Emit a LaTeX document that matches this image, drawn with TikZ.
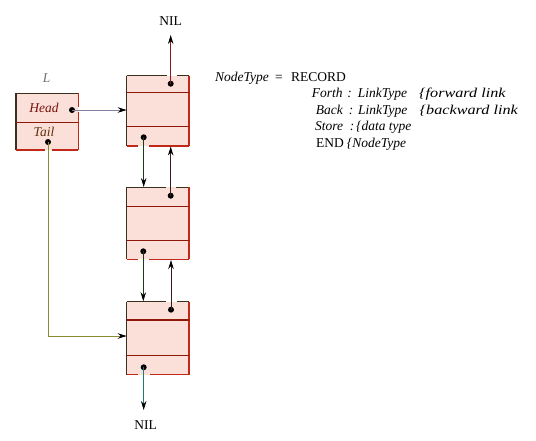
\documentclass[tikz,border=0pt]{standalone}
\usepackage{fontspec}
\setmainfont{Liberation Serif}
\newfontfamily\widecomment{Liberation Serif}[FakeStretch=1.2]
\usetikzlibrary{arrows.meta}
\definecolor{boxfill}{HTML}{FAE0D8}
\definecolor{edgedark}{HTML}{3A3020}
\definecolor{edgered}{HTML}{C02818}
\definecolor{divred}{HTML}{901808}
\definecolor{headcol}{HTML}{7A1010}
\definecolor{tailcol}{HTML}{603010}
\definecolor{headarrow}{HTML}{8080A0}
\definecolor{tailarrow}{HTML}{8A8A30}
\definecolor{downarrow}{HTML}{1A3A1A}
\definecolor{uparrow}{HTML}{3A1A1A}
\definecolor{nilup}{HTML}{8A1A1A}
\definecolor{nildown}{HTML}{207878}
\begin{document}
\begin{tikzpicture}[x=1pt,y=-1pt,
  font=\fontsize{13.5}{15}\selectfont,
  fillbox/.style={fill=boxfill,draw=none,inner sep=0pt,outer sep=0pt,anchor=north west},
  dark/.style={draw=edgedark,line width=1.1pt},
  redge/.style={draw=edgered,line width=1.1pt},
  divl/.style={draw=divred,line width=1.1pt},
  ptr/.style={circle,fill=black,inner sep=0pt,minimum size=6pt},
  arr/.style={line width=0.9pt,-{Stealth[length=9pt,width=5.5pt,color=black]}},
  txt/.style={inner sep=0pt,anchor=base west},
  cmt/.style={inner sep=0pt,anchor=base west,font=\fontsize{13.5}{15}\widecomment\itshape},
  lbl/.style={inner sep=0pt,anchor=base}]
\useasboundingbox (0,0) rectangle (536,440);

% ---- L record ----
\node[fillbox,minimum width=62.3pt,minimum height=56.7pt] (Lbox) at (16,93.3) {};
\draw[dark] (16,93.3) -- (78.3,93.3);
\draw[dark] (16,93.3) -- (16,150);
\draw[redge] (78.3,93.3) -- (78.3,106.7) (78.3,111.7) -- (78.3,150);
\draw[redge] (16,150) -- (45,150) (51.7,150) -- (78.3,150);
\draw[divl] (16,122.7) -- (78.3,122.7);
\node[lbl,text=black!55] (Llab) at (46.7,82.7) {\itshape L};
\node[lbl,text=headcol] (headlab) at (44,112.7) {\itshape Head};
\node[lbl,text=tailcol] (taillab) at (44,136.7) {\itshape Tail};
\node[ptr] (hd) at (72,110) {};
\node[ptr] (tl) at (48,142) {};

% ---- list nodes ----
\node[fillbox,minimum width=62.3pt,minimum height=70.3pt] (n1) at (126.7,75.7) {};
\node[fillbox,minimum width=62.3pt,minimum height=72pt] (n2) at (126.7,187.3) {};
\node[fillbox,minimum width=62.3pt,minimum height=73pt] (n3) at (126.7,301.7) {};

% node 1 edges
\draw[dark] (126.7,75.7) -- (166.5,75.7) (176.5,75.7) -- (189,75.7);
\draw[dark] (126.7,75.7) -- (126.7,146);
\draw[redge] (189,75.7) -- (189,146);
\draw[redge] (126.7,146) -- (137.7,146) (149,146) -- (189,146);
\draw[divl] (126.7,92.7) -- (189,92.7) (126.7,126.7) -- (189,126.7);
% node 2 edges
\draw[dark] (126.7,187.3) -- (165.5,187.3) (176,187.3) -- (189,187.3);
\draw[dark] (126.7,187.3) -- (126.7,259.3);
\draw[redge] (189,187.3) -- (189,259.3);
\draw[redge] (126.7,259.3) -- (138,259.3) (149,259.3) -- (189,259.3);
\draw[divl] (126.7,206.7) -- (189,206.7) (126.7,240.7) -- (189,240.7);
% node 3 edges
\draw[dark] (126.7,301.7) -- (165.5,301.7) (176.5,301.7) -- (189,301.7);
\draw[dark] (126.7,301.7) -- (126.7,374.7);
\draw[redge] (189,301.7) -- (189,374.7);
\draw[redge] (126.7,374.7) -- (138,374.7) (150,374.7) -- (189,374.7);
\draw[divl] (126.7,320) -- (189,320) (126.7,355.7) -- (189,355.7);

% pointer dots
\node[ptr] (p1t) at (170.7,83.7) {};
\node[ptr] (p1b) at (143.7,137.3) {};
\node[ptr] (p2t) at (170.7,195.7) {};
\node[ptr] (p2b) at (143.3,251.3) {};
\node[ptr] (p3t) at (171,309.7) {};
\node[ptr] (p3b) at (143.7,367.3) {};

% NIL labels
\node[lbl] (niltop) at (170.7,25) {NIL};
\node[lbl] (nilbot) at (145.7,429) {NIL};
\coordinate (niltopend) at (170.7,35);
\coordinate (nilbotend) at (143.7,410);

% arrow targets
\coordinate (n1left) at (126.7,110);
\coordinate (n3left) at (126.7,336);
\coordinate (tailcorner) at (48,336);
\coordinate (n2topin) at (143.7,187);
\coordinate (n1botin) at (170.7,146.5);
\coordinate (n3topin) at (143.3,301.2);
\coordinate (n2botin) at (171,260);

% connectors
\draw[arr,draw=headarrow] (hd.center) -- (n1left);
\draw[arr,draw=tailarrow] (tl.center) -- (tailcorner) -- (n3left);
\draw[arr,draw=nilup] (p1t.center) -- (niltopend);
\draw[arr,draw=downarrow] (p1b.center) -- (n2topin);
\draw[arr,draw=uparrow] (p2t.center) -- (n1botin);
\draw[arr,draw=downarrow] (p2b.center) -- (n3topin);
\draw[arr,draw=uparrow] (p3t.center) -- (n2botin);
\draw[arr,draw=nildown] (p3b.center) -- (nilbotend);

% record declaration
\node[txt] (t1a) at (215,81) {\itshape NodeType};
\node[lbl] (t1b) at (279,81) {=};
\node[txt] (t1c) at (291,81) {RECORD};
\node[txt] (t2a) at (311.7,97.7) {\itshape Forth};
\node[lbl] (t2c) at (349.5,97.7) {\itshape :};
\node[txt] (t2d) at (357.7,97.7) {\itshape LinkType};
\node[cmt] (t2b) at (419,97.7) {\{forward link};
\node[txt] (t3a) at (315.7,114.3) {\itshape Back};
\node[lbl] (t3c) at (351,114.3) {\itshape :};
\node[txt] (t3d) at (358,114.3) {\itshape LinkType};
\node[cmt] (t3b) at (419.5,114.3) {\{backward link};
\node[txt] (t4a) at (315,130.5) {\itshape Store};
\node[lbl] (t4c) at (352,130.5) {\itshape :};
\node[txt] (t4d) at (356,130.5) {\itshape \{data type};
\node[txt] (t5a) at (316,147.5) {END};
\node[txt] (t5b) at (346.7,147.5) {\itshape \{NodeType};
\end{tikzpicture}
\end{document}
